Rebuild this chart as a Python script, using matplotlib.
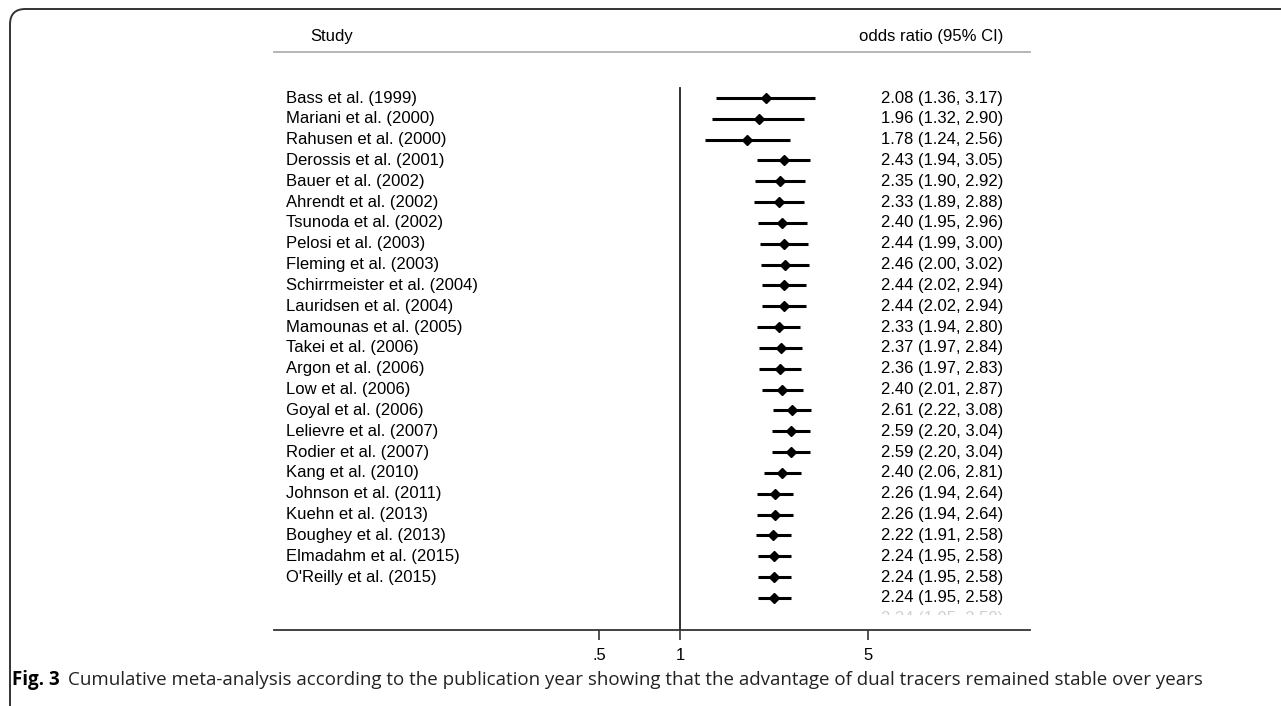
import matplotlib
matplotlib.use("Agg")
import matplotlib.pyplot as plt
from matplotlib.patches import FancyBboxPatch
from matplotlib.transforms import Bbox

# cumulative meta-analysis, one row per added study (last row = overall)
studies = [
	"Bass et al. (1999)", "Mariani et al. (2000)", "Rahusen et al. (2000)",
	"Derossis et al. (2001)", "Bauer et al. (2002)", "Ahrendt et al. (2002)",
	"Tsunoda et al. (2002)", "Pelosi et al. (2003)", "Fleming et al. (2003)",
	"Schirrmeister et al. (2004)", "Lauridsen et al. (2004)", "Mamounas et al. (2005)",
	"Takei et al. (2006)", "Argon et al. (2006)", "Low et al. (2006)",
	"Goyal et al. (2006)", "Lelievre et al. (2007)", "Rodier et al. (2007)",
	"Kang et al. (2010)", "Johnson et al. (2011)", "Kuehn et al. (2013)",
	"Boughey et al. (2013)", "Elmadahm et al. (2015)", "O'Reilly et al. (2015)",
	"",
]
odds = [2.08, 1.96, 1.78, 2.43, 2.35, 2.33, 2.40, 2.44, 2.46, 2.44, 2.44, 2.33,
		2.37, 2.36, 2.40, 2.61, 2.59, 2.59, 2.40, 2.26, 2.26, 2.22, 2.24, 2.24, 2.24]
lower = [1.36, 1.32, 1.24, 1.94, 1.90, 1.89, 1.95, 1.99, 2.00, 2.02, 2.02, 1.94,
		 1.97, 1.97, 2.01, 2.22, 2.20, 2.20, 2.06, 1.94, 1.94, 1.91, 1.95, 1.95, 1.95]
upper = [3.17, 2.90, 2.56, 3.05, 2.92, 2.88, 2.96, 3.00, 3.02, 2.94, 2.94, 2.80,
		 2.84, 2.83, 2.87, 3.08, 3.04, 3.04, 2.81, 2.64, 2.64, 2.58, 2.58, 2.58, 2.58]
xticks = [0.5, 1, 5]
xtick_labels = [".5", "1", "5"]

W, H = 1281, 706
plt.rcParams["font.family"] = ["Liberation Sans", "DejaVu Sans"]

fig = plt.figure(figsize=(W / 100, H / 100), dpi=100)

# plot region in pixels: x 274..1030, y 52..630
ax = fig.add_axes([274 / W, 1 - 630 / H, 756 / W, 578 / H])
ax.set_xscale("log")
ax.set_xlim(0.031, 20)

row0, step = 98, 20.83
ax.set_ylim((630 - row0) / step, (52 - row0) / step)

rows = list(range(len(odds)))
ax.hlines(rows, lower, upper, color="black", lw=2.2)
ax.plot(odds, rows, "D", color="black", ms=5.5, ls="none")
ax.plot([1, 1], [(88 - row0) / step, (630 - row0) / step], color="#222222", lw=1.3)

for spine in ["left", "right"]:
	ax.spines[spine].set_visible(False)
ax.spines["top"].set_color("#b0b0b0")
ax.spines["top"].set_linewidth(1.3)
ax.spines["bottom"].set_color("#333333")
ax.spines["bottom"].set_linewidth(1.3)

ax.set_yticks([])
ax.set_xticks(xticks)
ax.set_xticklabels(xtick_labels)
ax.xaxis.set_minor_locator(matplotlib.ticker.NullLocator())
ax.tick_params(axis="x", direction="out", length=7, width=1.2, color="#333333",
			   labelsize=12, pad=6)

yt = ax.get_yaxis_transform()
for i, name in enumerate(studies):
	ax.text((286 - 274) / 756, i, name, transform=yt, fontsize=12, va="center", ha="left")
	ax.text((1003 - 274) / 756, i, f"{odds[i]:.2f} ({lower[i]:.2f}, {upper[i]:.2f})",
			transform=yt, fontsize=12, va="center", ha="right")

ax.text((310 - 274) / 756, (36 - row0) / step, "Study", transform=yt, fontsize=12,
		va="center", ha="left", clip_on=False)
ax.text((1003 - 274) / 756, (36 - row0) / step, "odds ratio (95% CI)", transform=yt,
		fontsize=12, va="center", ha="right", clip_on=False)

# faint, cut-off line of text under the last row (only its top shows)
faint = ax.text((1003 - 274) / 756, (619 - row0) / step, "2.24 (1.95, 2.58)", transform=yt,
				fontsize=12, va="center", ha="right", color="#d0d0d0")
faint.set_clip_on(True)
faint.set_clip_box(Bbox.from_extents(0, H - 615, W, H))

# rounded frame, open to the right and bottom
frame = FancyBboxPatch((10 / W, -0.05), 1.1, 1 - 9 / H + 0.05,
					   boxstyle="round,pad=0,rounding_size=0.012",
					   transform=fig.transFigure, fill=False, ec="#333333", lw=1.4,
					   mutation_aspect=W / H)
fig.patches.append(frame)

fig.text(12 / W, 1 - 680 / H, "Fig. 3", fontsize=13.5, fontweight="bold",
		 family=["Open Sans", "DejaVu Sans"], va="center", ha="left")
fig.text(68 / W, 1 - 680 / H,
		 "Cumulative meta-analysis according to the publication year showing that the "
		 "advantage of dual tracers remained stable over years",
		 fontsize=13.5, family=["Open Sans", "DejaVu Sans"], va="center", ha="left",
		 color="#222222")

fig.savefig("out.png", dpi=100)
